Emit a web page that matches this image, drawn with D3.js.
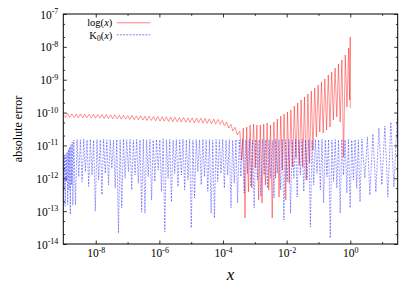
<!DOCTYPE html>
<html>
<head>
<meta charset="utf-8">
<script src="https://cdn.jsdelivr.net/npm/d3@7"></script>
<style>
body{margin:0;background:#fff;}
svg text{font-family:"Liberation Serif","DejaVu Serif",serif;fill:#000;}
</style>
</head>
<body>
<div id="chart"></div>
<script>
// values are stored as [log10(x), log10(absolute error)]
const xExtentExp = [-9.02, 1.49];
const yExtentExp = [-14, -7];
const xMajorExps = [-8,-6,-4,-2,0];
const xMinorExps = [-7,-5,-3,-1,1];
const yMajorExps = [-14,-13,-12,-11,-10,-9,-8,-7];
const yMinorMults = [2,5];

const logErr = [
  [-9.02,-10.06],[-8.95,-10.15],[-8.88,-10.03],[-8.82,-10.15],[-8.75,-10.04],[-8.68,-10.15],
  [-8.61,-10.04],[-8.55,-10.16],[-8.48,-10.04],[-8.41,-10.16],[-8.34,-10.05],[-8.28,-10.16],
  [-8.21,-10.05],[-8.14,-10.17],[-8.07,-10.05],[-8.01,-10.17],[-7.94,-10.06],[-7.87,-10.17],
  [-7.80,-10.06],[-7.74,-10.18],[-7.67,-10.06],[-7.60,-10.18],[-7.53,-10.07],[-7.47,-10.19],
  [-7.40,-10.07],[-7.33,-10.19],[-7.26,-10.08],[-7.20,-10.20],[-7.13,-10.08],[-7.06,-10.20],
  [-6.99,-10.09],[-6.93,-10.21],[-6.86,-10.09],[-6.79,-10.22],[-6.72,-10.10],[-6.66,-10.22],
  [-6.59,-10.10],[-6.52,-10.23],[-6.45,-10.11],[-6.39,-10.24],[-6.32,-10.11],[-6.25,-10.24],
  [-6.18,-10.12],[-6.12,-10.25],[-6.05,-10.12],[-5.98,-10.26],[-5.91,-10.13],[-5.85,-10.26],
  [-5.78,-10.13],[-5.71,-10.27],[-5.64,-10.14],[-5.58,-10.28],[-5.51,-10.14],[-5.44,-10.28],
  [-5.37,-10.15],[-5.31,-10.29],[-5.24,-10.15],[-5.17,-10.29],[-5.10,-10.16],[-5.04,-10.30],
  [-4.97,-10.16],[-4.90,-10.31],[-4.83,-10.17],[-4.77,-10.31],[-4.70,-10.17],[-4.63,-10.32],
  [-4.56,-10.18],[-4.50,-10.33],[-4.43,-10.19],[-4.36,-10.34],[-4.29,-10.20],[-4.23,-10.35],
  [-4.16,-10.21],[-4.09,-10.36],[-4.02,-10.24],[-3.96,-10.40],[-3.89,-10.29],[-3.82,-10.47],
  [-3.75,-10.36],[-3.69,-10.56],[-3.62,-10.45],[-3.55,-10.68],
  [-3.469,-10.561],[-3.416,-11.443],[-3.362,-10.469],[-3.309,-13.208],[-3.255,-10.439],[-3.202,-12.417],
  [-3.149,-10.378],[-3.095,-12.295],[-3.042,-10.348],[-2.988,-11.687],[-2.935,-10.378],[-2.881,-12.660],
  [-2.828,-10.378],[-2.775,-12.752],[-2.721,-10.348],[-2.668,-12.204],[-2.614,-10.317],[-2.561,-12.356],
  [-2.508,-10.378],[-2.454,-13.208],[-2.401,-10.287],[-2.347,-11.991],[-2.294,-10.195],[-2.240,-12.569],
  [-2.187,-10.104],[-2.134,-11.748],[-2.080,-10.043],[-2.027,-12.660],[-1.973,-9.982],[-1.920,-12.143],
  [-1.867,-9.922],[-1.813,-11.656],[-1.760,-9.800],[-1.706,-11.382],[-1.653,-9.709],[-1.600,-11.595],
  [-1.546,-9.617],[-1.493,-11.656],[-1.439,-9.526],[-1.386,-12.052],[-1.333,-9.435],[-1.279,-11.534],
  [-1.226,-9.343],[-1.172,-11.139],[-1.119,-9.252],[-1.066,-10.743],[-1.012,-9.161],[-0.959,-10.591],
  [-0.905,-9.069],[-0.852,-10.621],[-0.799,-8.978],[-0.745,-10.530],[-0.692,-8.856],[-0.638,-10.439],
  [-0.585,-8.765],[-0.532,-10.226],[-0.478,-8.643],[-0.425,-10.135],[-0.371,-8.522],[-0.318,-10.287],
  [-0.264,-8.400],[-0.211,-11.352],[-0.158,-8.248],[-0.104,-9.830],[-0.051,-8.035],[-0.020,-9.617],
  [-0.002,-7.700],[0.000,-9.861]
];

const k0Err = [
  [-9.02,-11.42],[-9.00,-12.30],[-8.98,-11.35],[-8.96,-12.85],[-8.94,-11.28],[-8.92,-12.10],
  [-8.90,-11.20],[-8.88,-12.80],[-8.86,-11.12],[-8.84,-12.35],[-8.82,-11.05],[-8.80,-13.10],
  [-8.78,-10.98],[-8.76,-12.20],[-8.74,-10.90],[-8.72,-12.82],
  [-8.690,-10.84],[-8.638,-12.81],[-8.586,-10.82],[-8.534,-11.95],[-8.482,-10.83],[-8.430,-12.10],
  [-8.378,-10.81],[-8.326,-11.80],[-8.274,-10.83],[-8.222,-12.25],[-8.170,-10.82],[-8.118,-11.90],
  [-8.066,-10.84],[-8.014,-13.00],[-7.962,-10.82],[-7.910,-12.05],[-7.858,-10.83],[-7.806,-12.50],
  [-7.754,-10.81],[-7.702,-11.85],[-7.650,-10.83],[-7.598,-12.20],[-7.546,-10.82],[-7.494,-11.70],
  [-7.442,-10.84],[-7.390,-12.30],[-7.338,-10.82],[-7.286,-13.67],[-7.234,-10.83],[-7.182,-12.90],
  [-7.130,-10.81],[-7.078,-12.00],[-7.026,-10.83],[-6.974,-11.80],[-6.922,-10.82],[-6.870,-12.35],
  [-6.818,-10.84],[-6.766,-11.90],[-6.714,-10.82],[-6.662,-12.15],[-6.610,-10.83],[-6.558,-13.03],
  [-6.506,-10.81],[-6.454,-13.06],[-6.402,-10.83],[-6.350,-11.95],[-6.298,-10.82],[-6.246,-12.66],
  [-6.194,-10.84],[-6.142,-12.10],[-6.090,-10.82],[-6.038,-11.75],[-5.986,-10.83],[-5.934,-12.40],
  [-5.882,-10.81],[-5.830,-13.63],[-5.778,-10.83],[-5.726,-12.00],[-5.674,-10.82],[-5.622,-12.72],
  [-5.570,-10.84],[-5.518,-11.85],[-5.466,-10.82],[-5.414,-12.25],[-5.362,-10.83],[-5.310,-11.90],
  [-5.258,-10.81],[-5.206,-12.35],[-5.154,-10.83],[-5.102,-12.05],[-5.050,-10.82],[-4.998,-13.51],
  [-4.946,-10.84],[-4.894,-12.60],[-4.842,-10.82],[-4.790,-11.80],[-4.738,-10.83],[-4.686,-12.20],
  [-4.634,-10.81],[-4.582,-11.95],[-4.530,-10.83],[-4.478,-12.40],[-4.426,-10.82],[-4.374,-13.06],
  [-4.322,-10.84],[-4.270,-13.21],[-4.218,-10.82],[-4.166,-12.10],[-4.114,-10.83],[-4.062,-11.85],
  [-4.010,-10.81],[-3.958,-12.30],[-3.906,-10.83],[-3.854,-11.90],[-3.802,-10.82],[-3.750,-12.90],
  [-3.698,-10.84],[-3.646,-12.15],[-3.594,-10.82],[-3.542,-12.75],[-3.490,-10.83],[-3.438,-11.95],
  [-3.386,-10.81],[-3.334,-12.45],[-3.282,-10.83],[-3.230,-11.85],[-3.178,-10.82],[-3.126,-12.25],
  [-3.074,-10.84],[-3.022,-12.90],[-2.970,-10.82],[-2.918,-12.05],[-2.866,-10.83],[-2.814,-12.55],
  [-2.762,-10.81],[-2.710,-11.90],[-2.658,-10.83],[-2.606,-12.30],[-2.554,-10.82],[-2.502,-12.00],
  [-2.450,-10.84],[-2.398,-12.60],[-2.346,-10.82],[-2.294,-11.85],[-2.242,-10.83],[-2.190,-12.35],
  [-2.138,-10.81],[-2.086,-13.27],[-2.034,-10.83],[-1.982,-12.10],[-1.930,-10.82],[-1.878,-13.06],
  [-1.826,-10.84],[-1.774,-12.00],[-1.722,-10.82],[-1.670,-12.57],[-1.618,-10.83],[-1.566,-11.90],
  [-1.514,-10.81],[-1.462,-12.40],[-1.410,-10.83],[-1.358,-12.05],[-1.306,-10.82],[-1.254,-13.48],
  [-1.202,-10.84],[-1.150,-12.20],[-1.098,-10.82],[-1.046,-11.85],[-0.994,-10.83],[-0.942,-12.35],
  [-0.890,-10.81],[-0.838,-12.75],[-0.786,-10.83],[-0.734,-11.95],[-0.682,-10.82],[-0.630,-13.82],
  [-0.578,-10.84],[-0.526,-12.10],[-0.474,-10.82],[-0.422,-12.30],[-0.370,-10.83],[-0.318,-13.06],
  [-0.266,-10.81],[-0.214,-11.90],[-0.162,-10.83],[-0.110,-12.45],[-0.058,-10.82],[-0.006,-12.90],
  [0.046,-10.84],[0.098,-12.05],[0.150,-10.82],[0.202,-12.30],[0.254,-10.83],[0.306,-12.72],
  [0.364,-10.80],[0.458,-11.99],[0.537,-10.74],[0.615,-12.51],[0.710,-10.65],[0.804,-12.42],
  [0.898,-10.47],[0.992,-12.20],[1.087,-10.41],[1.181,-12.57],[1.275,-10.29],[1.369,-12.26],
  [1.480,-10.10]
];

const W = 415, H = 291;
const margin = {top:14, right:17.3, bottom:47, left:63.3};
const width = W - margin.left - margin.right;
const height = H - margin.top - margin.bottom;

const x = d3.scaleLog().domain(xExtentExp.map(e => 10**e)).range([0,width]);
const y = d3.scaleLog().domain(yExtentExp.map(e => 10**e)).range([height,0]);

const svg = d3.select("#chart").append("svg")
  .attr("width",W).attr("height",H)
  .append("g")
  .attr("transform",`translate(${margin.left},${margin.top})`);

svg.append("clipPath").attr("id","plotClip")
  .append("rect").attr("width",width).attr("height",height);

const line = d3.line()
  .x(d => x(10**d[0]))
  .y(d => y(10**d[1]));

svg.append("path")
  .datum(logErr)
  .attr("clip-path","url(#plotClip)")
  .attr("fill","none")
  .attr("stroke","#ff0000")
  .attr("stroke-width",0.5)
  .attr("stroke-opacity",0.85)
  .attr("d",line);

svg.append("path")
  .datum(k0Err)
  .attr("clip-path","url(#plotClip)")
  .attr("fill","none")
  .attr("stroke","#0000ff")
  .attr("stroke-width",0.5)
  .attr("stroke-opacity",0.8)
  .attr("stroke-dasharray","2,1.2")
  .attr("d",line);

// minor y ticks at 2x and 5x each decade
const yMinor = [];
yMajorExps.slice(0,-1).forEach(e => yMinorMults.forEach(m => yMinor.push(m*10**e)));

function supLabel(sel){
  sel.each(function(d){
    const t = d3.select(this);
    const e = Math.round(Math.log10(d));
    t.text(null);
    t.append("tspan").text("10");
    t.append("tspan").attr("dy",-4.5).attr("font-size",8).text(e);
  });
}

// bottom / top
const xb = svg.append("g").attr("transform",`translate(0,${height})`)
  .call(d3.axisBottom(x).tickValues(xMajorExps.map(e=>10**e)).tickSize(-3.5).tickSizeOuter(0).tickPadding(13));
xb.selectAll("text").attr("font-size",11.5).attr("dy",null).call(supLabel);
svg.append("g").attr("transform",`translate(0,${height})`)
  .call(d3.axisBottom(x).tickValues(xMinorExps.map(e=>10**e)).tickSize(-1.8).tickSizeOuter(0).tickFormat(""));
svg.append("g")
  .call(d3.axisTop(x).tickValues(xMajorExps.map(e=>10**e)).tickSize(-3.5).tickSizeOuter(0).tickFormat(""));
svg.append("g")
  .call(d3.axisTop(x).tickValues(xMinorExps.map(e=>10**e)).tickSize(-1.8).tickSizeOuter(0).tickFormat(""));

// left / right
const yl = svg.append("g")
  .call(d3.axisLeft(y).tickValues(yMajorExps.map(e=>10**e)).tickSize(-3.5).tickSizeOuter(0).tickPadding(5));
yl.selectAll("text").attr("font-size",11.5).attr("dy","0.35em").call(supLabel);
svg.append("g")
  .call(d3.axisLeft(y).tickValues(yMinor).tickSize(-1.8).tickSizeOuter(0).tickFormat(""));
svg.append("g").attr("transform",`translate(${width},0)`)
  .call(d3.axisRight(y).tickValues(yMajorExps.map(e=>10**e)).tickSize(-3.5).tickSizeOuter(0).tickFormat(""));
svg.append("g").attr("transform",`translate(${width},0)`)
  .call(d3.axisRight(y).tickValues(yMinor).tickSize(-1.8).tickSizeOuter(0).tickFormat(""));

svg.selectAll(".domain").remove();
svg.selectAll(".tick line").attr("stroke","#000").attr("stroke-width",0.8);

svg.append("rect")
  .attr("width",width).attr("height",height)
  .attr("fill","none").attr("stroke","#000").attr("stroke-width",1);

// axis titles
svg.append("text")
  .attr("x",width/2).attr("y",height+35.5)
  .attr("text-anchor","middle")
  .attr("font-size",17).attr("font-style","italic")
  .text("x");

svg.append("text")
  .attr("transform",`translate(${-margin.left+21.5},${height/2})rotate(-90)`)
  .attr("text-anchor","middle")
  .attr("font-size",12)
  .text("absolute error");

// legend
const legend = svg.append("g");
const lg1 = legend.append("text").attr("x",49).attr("y",12).attr("text-anchor","end").attr("font-size",10.5);
lg1.append("tspan").text("log(");
lg1.append("tspan").attr("font-style","italic").text("x");
lg1.append("tspan").text(")");
legend.append("line").attr("x1",53.5).attr("x2",87).attr("y1",8.8).attr("y2",8.8)
  .attr("stroke","#ff0000").attr("stroke-width",0.5);

const lg2 = legend.append("text").attr("x",49).attr("y",24.5).attr("text-anchor","end").attr("font-size",10.5);
lg2.append("tspan").text("K");
lg2.append("tspan").attr("dy",2).attr("font-size",7.5).text("0");
lg2.append("tspan").attr("dy",-2).text("(");
lg2.append("tspan").attr("font-style","italic").text("x");
lg2.append("tspan").text(")");
legend.append("line").attr("x1",53.5).attr("x2",87).attr("y1",20.8).attr("y2",20.8)
  .attr("stroke","#0000ff").attr("stroke-width",0.5).attr("stroke-dasharray","2,1.2");
</script>
</body>
</html>
